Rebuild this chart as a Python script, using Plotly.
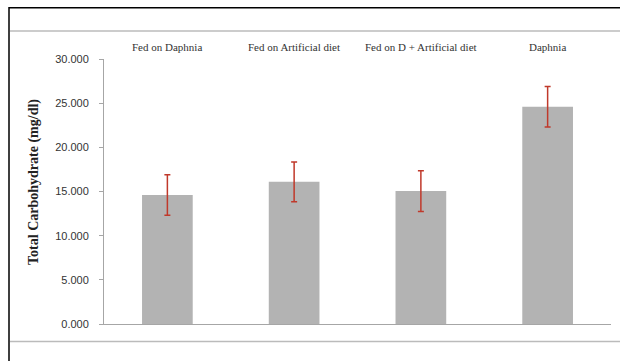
import plotly.graph_objects as go

categories = ["Fed on Daphnia", "Fed on Artificial diet", "Fed on D + Artificial diet", "Daphnia"]
values = [14.6, 16.1, 15.05, 24.6]
errors = [2.3, 2.25, 2.3, 2.3]
y_ticks = [0, 5, 10, 15, 20, 25, 30]
y_tick_labels = ["0.000", "5.000", "10.000", "15.000", "20.000", "25.000", "30.000"]
y_title = "Total Carbohydrate (mg/dl)"

fig = go.Figure()
fig.add_trace(go.Bar(
    x=categories, y=values,
    marker=dict(color="#b3b3b3", line=dict(width=0)),
    error_y=dict(type="data", array=errors, visible=True, color="#c0392b", thickness=1.5, width=3),
))

for c in categories:
    fig.add_annotation(x=c, y=1.045, xref="x", yref="paper", text=c, showarrow=False,
                       font=dict(family="Liberation Serif", size=11, color="#333333"), yanchor="middle")

fig.add_annotation(x=-70 / 507, y=0.536, xref="paper", yref="paper", text=f"<b>{y_title}</b>",
                   showarrow=False, textangle=-90, xanchor="center", yanchor="middle",
                   font=dict(family="Liberation Serif", size=14, color="#222222"))

xl = -95 / 507
xg = -94 / 507
xr = 1.1
# frame lines
fig.add_shape(type="path", xref="paper", yref="paper",
              path=f"M {xl},-0.15 L {xl},1.193 L {xr},1.193",
              line=dict(color="black", width=1.5))
fig.add_shape(type="path", xref="paper", yref="paper", path=f"M {xg},1.106 L {xr},1.106",
              line=dict(color="#bbbbbb", width=1.5))
fig.add_shape(type="path", xref="paper", yref="paper", path=f"M {xg},-0.066 L {xr},-0.066",
              line=dict(color="#bbbbbb", width=1.5))

fig.update_layout(
    width=620, height=361,
    margin=dict(l=104, r=9, t=59, b=37),
    paper_bgcolor="white", plot_bgcolor="white",
    bargap=0.6, showlegend=False,
    xaxis=dict(showticklabels=False, showline=True, linecolor="#a6a6a6", linewidth=1, ticks="", showgrid=False),
    yaxis=dict(range=[0, 30], tickvals=y_ticks, ticktext=y_tick_labels, showline=True, linecolor="#a6a6a6",
               linewidth=1, ticks="outside", ticklen=4, tickcolor="#a6a6a6", showgrid=False, zeroline=False,
               ticklabelstandoff=8,
               tickfont=dict(family="Liberation Sans", size=11, color="#333333")),
)

fig.write_html("out.html", config={"displayModeBar": False})
